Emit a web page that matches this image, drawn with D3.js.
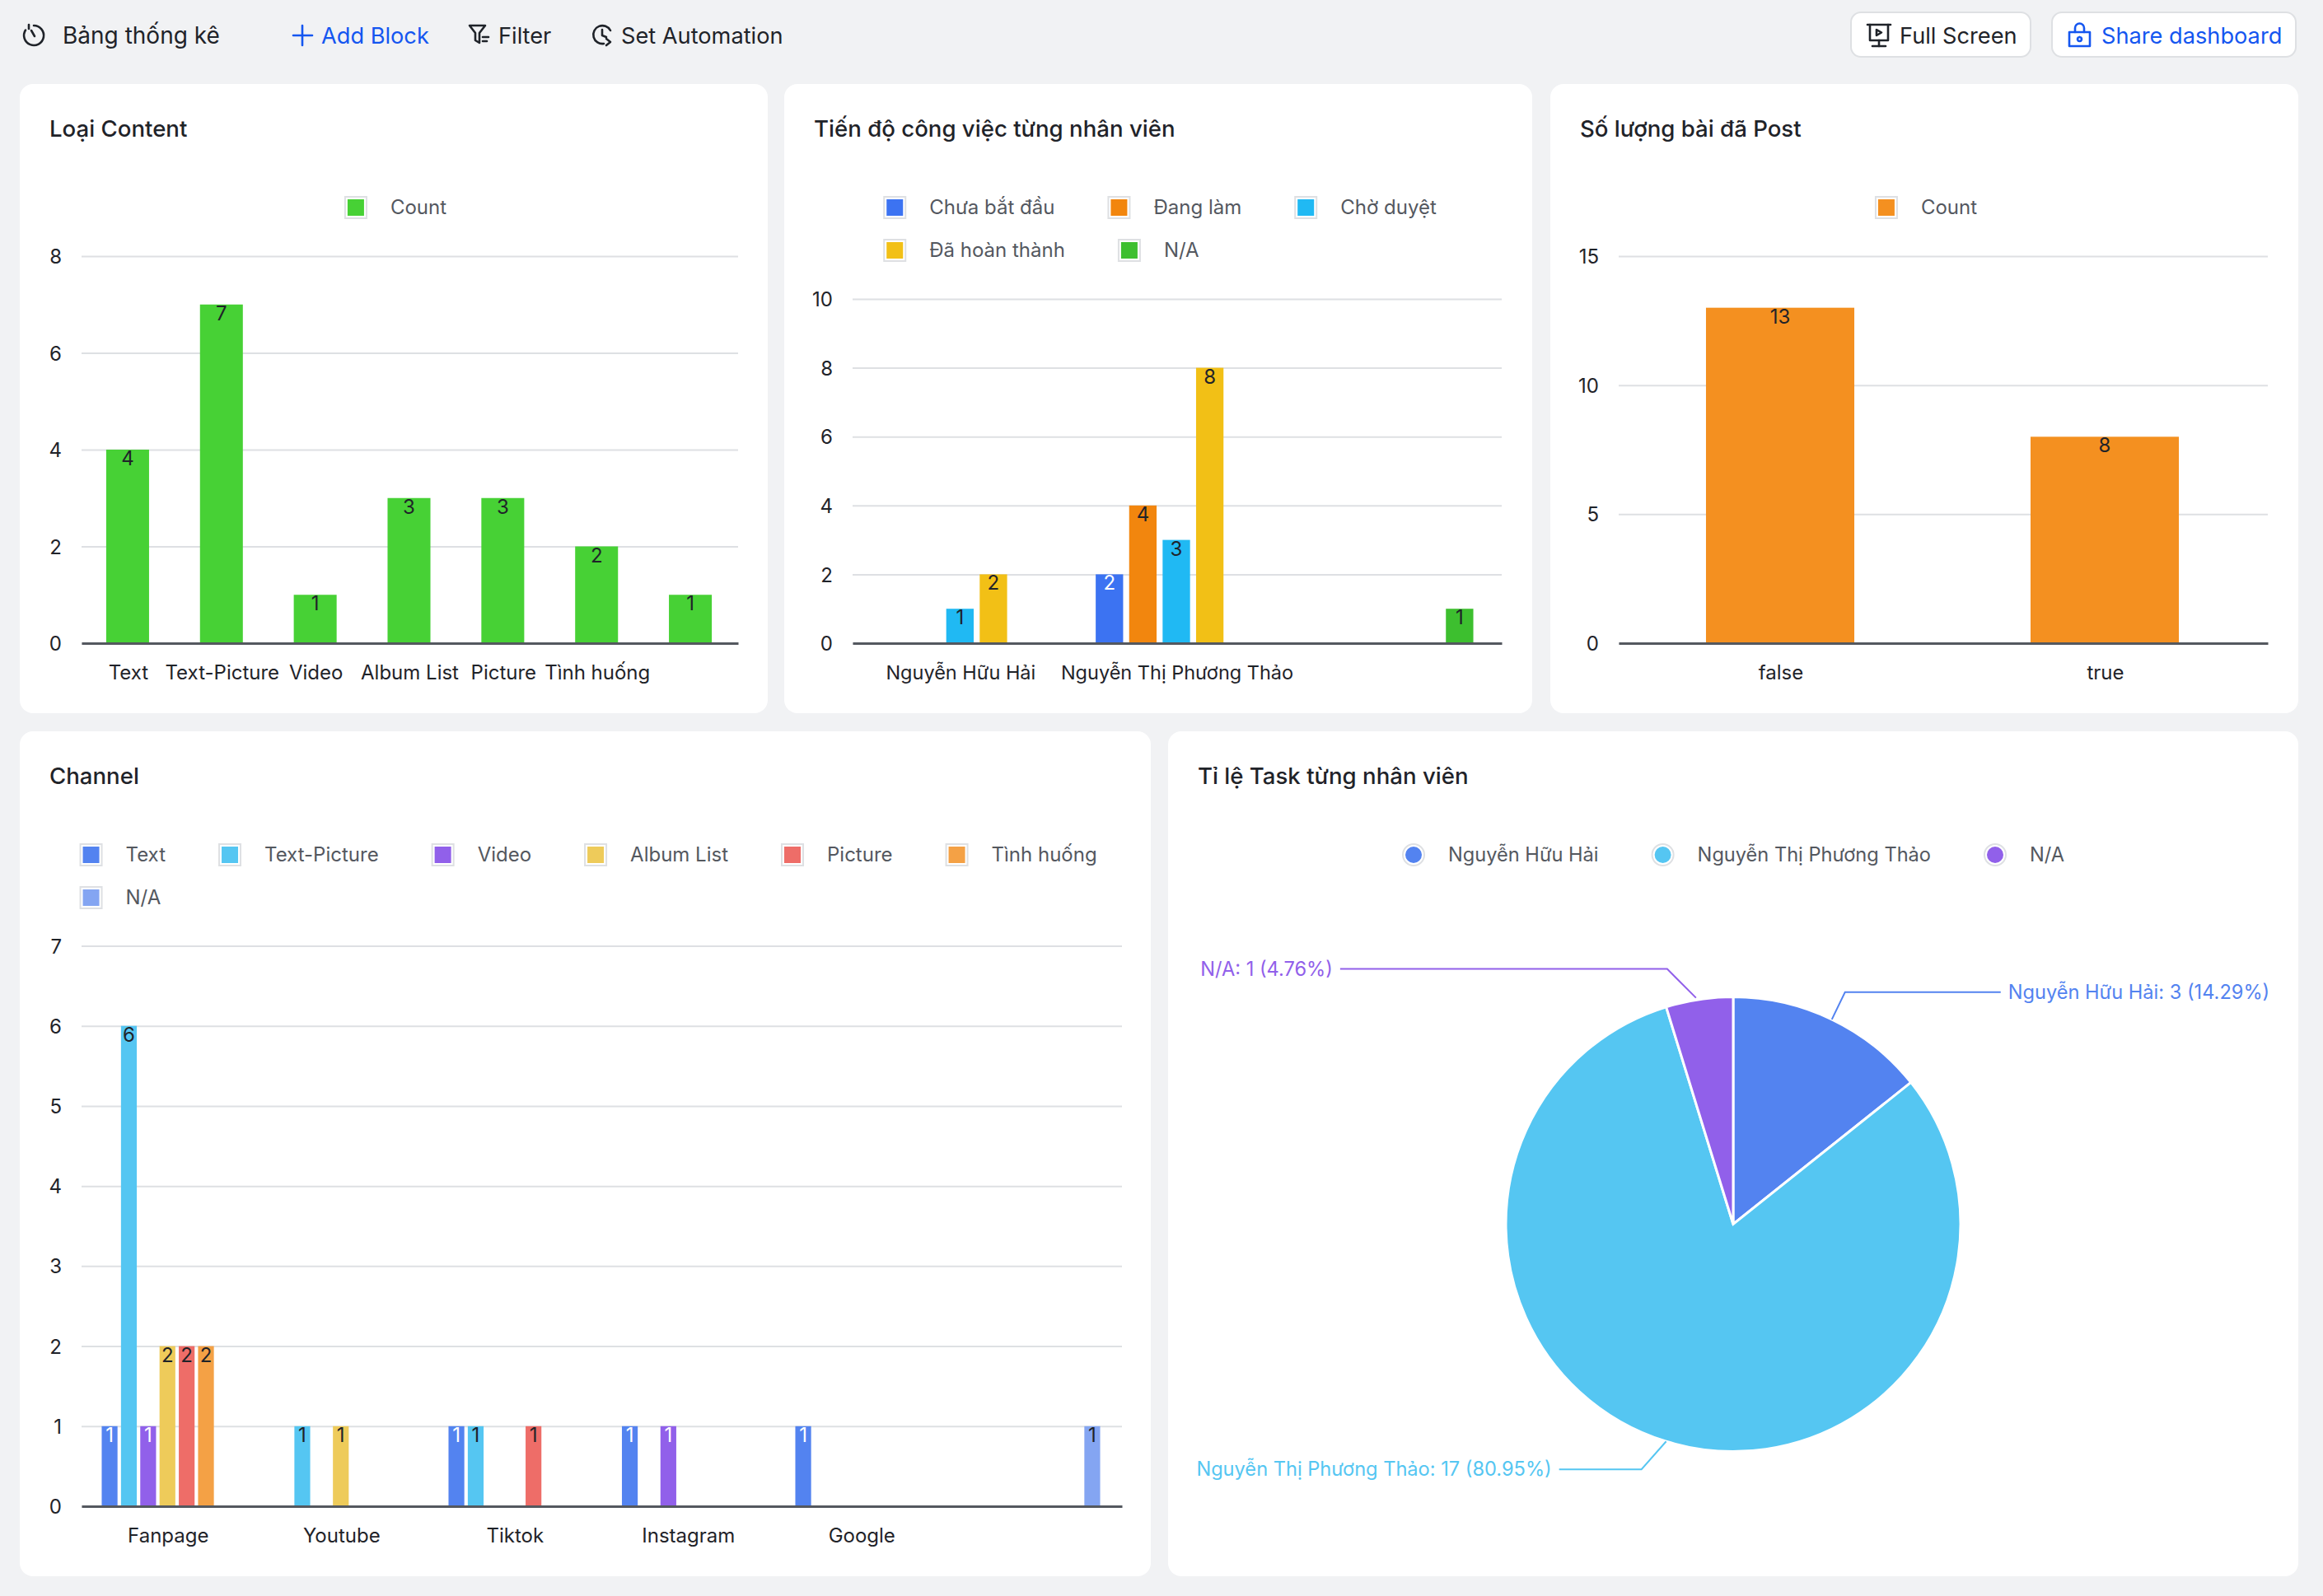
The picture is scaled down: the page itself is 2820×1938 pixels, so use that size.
<!DOCTYPE html>
<html>
<head>
<meta charset="utf-8">
<title>Bảng thống kê</title>
<script src="https://cdn.jsdelivr.net/npm/d3@7"></script>
<style>
  html, body { margin: 0; padding: 0; background: #f1f2f4; }
  svg { display: block; }
  text { font-family: Inter, "Noto Sans", sans-serif; }
  .tick text { font-family: Inter, "Noto Sans", sans-serif; }
</style>
</head>
<body>
<div id="chart"></div>
<script>
// Loại Content
const contentCategories = ["Text", "Text-Picture", "Video", "Album List", "Picture", "Tình huống", ""];
const contentCounts = [4, 7, 1, 3, 3, 2, 1];

// Tiến độ công việc từng nhân viên
const staffCategories = ["Nguyễn Hữu Hải", "Nguyễn Thị Phương Thảo", ""];
const progressSeries = ["Chưa bắt đầu", "Đang làm", "Chờ duyệt", "Đã hoàn thành", "N/A"];
const progressNotStarted = [0, 2, 0];
const progressDoing = [0, 4, 0];
const progressReview = [1, 3, 0];
const progressDone = [2, 8, 0];
const progressNA = [0, 0, 1];

// Số lượng bài đã Post
const postCategories = ["false", "true"];
const postCounts = [13, 8];

// Channel
const channelCategories = ["Fanpage", "Youtube", "Tiktok", "Instagram", "Google", ""];
const channelSeries = ["Text", "Text-Picture", "Video", "Album List", "Picture", "Tình huống", "N/A"];
const channelText = [1, 0, 1, 1, 1, 0];
const channelTextPicture = [6, 1, 1, 0, 0, 0];
const channelVideo = [1, 0, 0, 1, 0, 0];
const channelAlbum = [2, 1, 0, 0, 0, 0];
const channelPicture = [2, 0, 1, 0, 0, 0];
const channelSituation = [2, 0, 0, 0, 0, 0];
const channelNA = [0, 0, 0, 0, 0, 1];

// Tỉ lệ Task từng nhân viên
const taskNames = ["Nguyễn Hữu Hải", "Nguyễn Thị Phương Thảo", "N/A"];
const taskCounts = [3, 17, 1];
const taskPercents = ["14.29%", "80.95%", "4.76%"];

// Colors
const progressColors = ["#3c73f2", "#f2860e", "#20b9f3", "#f2c016", "#3dbf2f"];
const channelColors = ["#5383f0", "#55c6f2", "#9160ea", "#eecb5a", "#ee6d68", "#f4a145", "#84a5f2"];
const taskColors = ["#5383f0", "#55c6f2", "#9160ea"];
const grey = { text: "#1f2329", legend: "#54585f", grid: "#dee0e3", axis: "#54585f" };
const linkBlue = "#1456f0";

const svg = d3.select("#chart").append("svg")
    .attr("width", 2820)
    .attr("height", 1938);

svg.append("rect").attr("width", 2820).attr("height", 1938).attr("fill", "#f1f2f4");

// Cards
const cards = [
    { x: 24, y: 102, w: 908, h: 764, title: "Loại Content" },
    { x: 952, y: 102, w: 908, h: 764, title: "Tiến độ công việc từng nhân viên" },
    { x: 1882, y: 102, w: 908, h: 764, title: "Số lượng bài đã Post" },
    { x: 24, y: 888, w: 1373, h: 1026, title: "Channel" },
    { x: 1418, y: 888, w: 1372, h: 1026, title: "Tỉ lệ Task từng nhân viên" }
];

cards.forEach(c => {
    svg.append("rect")
        .attr("x", c.x).attr("y", c.y)
        .attr("width", c.w).attr("height", c.h)
        .attr("rx", 16)
        .attr("fill", "#fff");
    svg.append("text")
        .attr("x", c.x + 36).attr("y", c.y + 63.5)
        .attr("font-size", 27.6)
        .attr("font-weight", 450)
        .attr("fill", grey.text)
        .text(c.title);
});

// Legend: items flow left to right, wrap, and the block is centered in the card
function drawLegend(card, names, colors, y, opts = {}) {
    const size = opts.size || 24;
    const shift = opts.shift === undefined ? 2 : opts.shift;
    const g = svg.append("g");
    const items = g.selectAll("g").data(names).enter().append("g");
    items.append("text")
        .attr("x", 56)
        .attr("dy", "0.35em")
        .attr("font-size", size)
        .attr("fill", grey.legend)
        .text(d => d);

    const maxWidth = card.w - 40;
    const gap = 64;
    let px = 0, row = 0, blockWidth = 0;
    const places = [];
    items.each(function() {
        const w = 56 + this.querySelector("text").getComputedTextLength();
        if (px > 0 && px + w > maxWidth) { px = 0; row++; }
        places.push([px, row]);
        blockWidth = Math.max(blockWidth, px + w);
        px += w + gap;
    });

    const left = card.x + (card.w - blockWidth) / 2 + shift;
    items.attr("transform", (d, i) => `translate(${left + places[i][0]},${y + places[i][1] * 52})`);

    items.each(function(d, i) {
        const item = d3.select(this);
        if (opts.shape === "circle") {
            item.insert("circle", "text").attr("cx", 14).attr("r", 13)
                .attr("fill", "#fff").attr("stroke", grey.grid).attr("stroke-width", 2);
            item.insert("circle", "text").attr("cx", 14).attr("r", 10).attr("fill", colors[i]);
        } else {
            item.insert("rect", "text").attr("x", 1).attr("y", -13).attr("width", 26).attr("height", 26)
                .attr("fill", "#fff").attr("stroke", grey.grid).attr("stroke-width", 2);
            item.insert("rect", "text").attr("x", 4).attr("y", -10).attr("width", 20).attr("height", 20)
                .attr("fill", colors[i]);
        }
    });
}

// Shared axes for the bar charts
function drawAxes(box, xScale, yScale, ticks) {
    const g = svg.append("g");

    const yAxis = d3.axisLeft(yScale)
        .tickValues(ticks)
        .tickFormat(d3.format("d"))
        .tickSize(-(box.right - box.left))
        .tickPadding(24);

    const yg = g.append("g")
        .attr("transform", `translate(${box.left},0)`)
        .call(yAxis);
    yg.select(".domain").remove();
    yg.selectAll("line").attr("stroke", grey.grid).attr("stroke-width", 2);
    yg.selectAll("text").attr("font-size", 24).attr("dy", "0.36em").attr("fill", grey.text);

    return g;
}

function drawBaseline(box, xScale, yScale) {
    const xAxis = d3.axisBottom(xScale).tickSize(0).tickPadding(27);
    const xg = svg.append("g")
        .attr("transform", `translate(0,${yScale(0)})`)
        .call(xAxis);
    xg.select(".domain").attr("stroke", grey.axis).attr("stroke-width", 3);
    xg.selectAll("text").attr("font-size", box.labelSize || 24).attr("fill", grey.text);
}

function drawBars(selection, xPos, width, yScale, color) {
    const bars = selection.filter(d => d.value > 0);
    bars.append("rect")
        .attr("x", xPos)
        .attr("y", d => yScale(d.value))
        .attr("width", width)
        .attr("height", d => yScale(0) - yScale(d.value))
        .attr("fill", color);
    bars.append("text")
        .attr("x", d => xPos(d) + width / 2)
        .attr("y", d => yScale(d.value) + 19)
        .attr("text-anchor", "middle")
        .attr("font-size", 24)
        .attr("fill", d => d3.lab(color(d)).l < 60 ? "#fff" : grey.text)
        .text(d => d.value);
}

// Single series chart
function singleBarChart(box, categories, values, ticks, color) {
    const x = d3.scaleBand().domain(categories).range([box.left, box.right]).padding(0.543).paddingOuter(0.2715);
    const y = d3.scaleLinear().domain([0, ticks[ticks.length - 1]]).range([box.bottom, box.top]);
    drawAxes(box, x, y, ticks);

    const data = categories.map((c, i) => ({ cat: c, value: values[i] }));
    const groups = svg.append("g").attr("transform", "translate(-1,0)")
        .selectAll("g").data(data).enter().append("g");
    drawBars(groups, d => x(d.cat), x.bandwidth(), y, () => color);
    drawBaseline(box, x, y);
}

// Grouped chart, one slot per series in every category
function groupedBarChart(box, categories, seriesNames, seriesValues, colors, ticks, padInner) {
    const x0 = d3.scaleBand().domain(categories).range([box.left, box.right])
        .paddingInner(padInner).paddingOuter(padInner / 2);
    const x1 = d3.scaleBand().domain(seriesNames).range([0, x0.bandwidth()])
        .paddingInner(0.18).paddingOuter(0.09);
    const y = d3.scaleLinear().domain([0, ticks[ticks.length - 1]]).range([box.bottom, box.top]);
    const color = d3.scaleOrdinal().domain(seriesNames).range(colors);
    drawAxes(box, x0, y, ticks);

    const data = [];
    seriesNames.forEach((s, j) => categories.forEach((c, i) => {
        data.push({ cat: c, series: s, value: seriesValues[j][i] });
    }));
    const groups = svg.append("g").attr("transform", "translate(-1,0)")
        .selectAll("g").data(data).enter().append("g");
    drawBars(groups, d => x0(d.cat) + x1(d.series), x1.bandwidth(), y, d => color(d.series));
    drawBaseline(box, x0, y);
}

// Loại Content
drawLegend(cards[0], ["Count"], ["#47d135"], 252);
singleBarChart({ left: 99, right: 896, top: 311, bottom: 781 },
    contentCategories, contentCounts, [0, 2, 4, 6, 8], "#47d135");

// Tiến độ công việc
drawLegend(cards[1], progressSeries, progressColors, 252);
groupedBarChart({ left: 1035, right: 1823, top: 363, bottom: 781, labelSize: 23.5 },
    staffCategories, progressSeries,
    [progressNotStarted, progressDoing, progressReview, progressDone, progressNA],
    progressColors, [0, 2, 4, 6, 8, 10], 0.227);

// Số lượng bài đã Post
drawLegend(cards[2], ["Count"], ["#f49020"], 252);
singleBarChart({ left: 1965, right: 2753, top: 311, bottom: 781 },
    postCategories, postCounts, [0, 5, 10, 15], "#f49020");

// Channel
drawLegend(cards[3], channelSeries, channelColors, 1038, { shift: 3.6 });
groupedBarChart({ left: 99, right: 1362, top: 1148.5, bottom: 1829 },
    channelCategories, channelSeries,
    [channelText, channelTextPicture, channelVideo, channelAlbum, channelPicture, channelSituation, channelNA],
    channelColors, [0, 1, 2, 3, 4, 5, 6, 7], 0.222);

// Pie
drawLegend(cards[4], taskNames, taskColors, 1038, { shape: "circle", size: 23.6, shift: 0 });

const pieCenter = [2104, 1486.5];
const pieRadius = 276;
const pie = d3.pie().sort(null).value(d => d)(taskCounts);
const arc = d3.arc().innerRadius(0).outerRadius(pieRadius);

const pieGroup = svg.append("g").attr("transform", `translate(${pieCenter[0]},${pieCenter[1]})`);
pieGroup.selectAll("path").data(pie).enter().append("path")
    .attr("d", arc)
    .attr("fill", (d, i) => taskColors[i])
    .attr("stroke", "#fff")
    .attr("stroke-width", 3);

// Leader lines start on the pie edge, then bend and run horizontal to the label
const leaderNudge = [[0, 0], [0, 0], [-4, -2]];
const leaderBend = [[16, -33], [-30, 34], [-35, -35]];
const leaderRun = [189, -100, -397];
pie.forEach((d, i) => {
    const mid = (d.startAngle + d.endAngle) / 2;
    const sx = Math.sin(mid) * pieRadius + leaderNudge[i][0];
    const sy = -Math.cos(mid) * pieRadius + leaderNudge[i][1];
    const bx = sx + leaderBend[i][0];
    const by = sy + leaderBend[i][1];
    const ex = bx + leaderRun[i];
    pieGroup.append("path")
        .attr("d", d3.line()([[sx, sy], [bx, by], [ex, by]]))
        .attr("fill", "none")
        .attr("stroke", taskColors[i])
        .attr("stroke-width", 2);
    pieGroup.append("text")
        .attr("x", ex + (leaderRun[i] > 0 ? 9 : -9))
        .attr("y", by)
        .attr("dy", "0.35em")
        .attr("text-anchor", leaderRun[i] > 0 ? "start" : "end")
        .attr("font-size", 23.6)
        .attr("fill", taskColors[i])
        .text(`${taskNames[i]}: ${taskCounts[i]} (${taskPercents[i]})`);
});

// Header toolbar
function headerText(x, label, color, size) {
    svg.append("text")
        .attr("x", x).attr("y", 43)
        .attr("dy", "0.35em")
        .attr("font-size", size || 27.2)
        .attr("fill", color)
        .text(label);
}

function icon(x, y, color, paths) {
    const g = svg.append("g")
        .attr("transform", `translate(${x},${y})`)
        .attr("fill", "none")
        .attr("stroke", color)
        .attr("stroke-width", 2.6)
        .attr("stroke-linecap", "round")
        .attr("stroke-linejoin", "round");
    paths.forEach(p => g.append("path").attr("d", p));
}

[[2247, 218], [2491, 296]].forEach(b => {
    svg.append("rect")
        .attr("x", b[0]).attr("y", 15)
        .attr("width", b[1]).attr("height", 54)
        .attr("rx", 12)
        .attr("fill", "#fff")
        .attr("stroke", grey.grid)
        .attr("stroke-width", 2);
});

icon(29, 29, grey.text, ["M12 2a12 12 0 1 1-10 5.5", "M6 1v5", "M9 8l4 7"]);
headerText(76, "Bảng thống kê", grey.text, 28);
icon(355, 30, linkBlue, ["M12 1v24", "M1 13h23"]);
headerText(390, "Add Block", linkBlue);
icon(569, 29, grey.text, ["M1 2h19l-7 9v12l-5-3v-9z", "M17 16h7", "M17 21h5"]);
headerText(605, "Filter", grey.text);
icon(719, 29, grey.text, ["M22 8a11 11 0 1 0-8 16", "M12 7v7l5 2", "M17 18l5 4-5 4"]);
headerText(754, "Set Automation", grey.text);
icon(2267, 28, grey.text, ["M0 2h28", "M3 2v19h22V2", "M14 21v7", "M6 28h16", "M11 8v7l6-3.5z"]);
headerText(2306, "Full Screen", grey.text);
icon(2511, 28, linkBlue, ["M1 11h25v17H1z", "M8 11V6a5.500 5.500 0 0 1 11 0v5", "M13.500 17a2.500 2.500 0 1 0 0.010 0"]);
headerText(2551, "Share dashboard", linkBlue);
</script>
</body>
</html>
